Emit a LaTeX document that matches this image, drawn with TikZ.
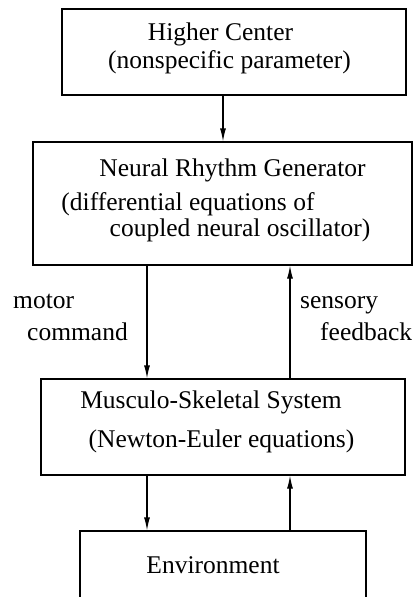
\documentclass[tikz,border=0pt]{standalone}
\usepackage{fontspec}
\setmainfont{Liberation Serif}
\usetikzlibrary{arrows.meta}
\begin{document}
\begin{tikzpicture}[x=1pt,y=-1pt,
  box/.style={draw,line width=1.2pt,inner sep=0pt},
  lbl/.style={inner sep=0pt,font=\fontsize{25.5}{30}\selectfont},
  arr/.style={line width=1.2pt,-{Latex[length=13pt,width=6pt]}}]
\useasboundingbox (0,0) rectangle (414,597);
\clip (0,0) rectangle (414,597);
% boxes
\node[box,minimum width=344pt,minimum height=86pt] (hc) at (234,52) {};
\node[box,minimum width=379pt,minimum height=123pt] (nrg) at (222.5,203.5) {};
\node[box,minimum width=364pt,minimum height=96pt] (mss) at (223,427) {};
\node[box,minimum width=286pt,minimum height=100pt] (env) at (223,581) {};
% texts
\node[lbl,anchor=base] (t1) at (220.5,40) {Higher Center};
\node[lbl,anchor=base] (t2) at (229.5,68) {(nonspecific parameter)};
\node[lbl,anchor=base] (t3) at (232.5,176) {Neural Rhythm Generator};
\node[lbl,anchor=base] (t4) at (188,210) {(differential equations of};
\node[lbl,anchor=base] (t5) at (240,236) {coupled neural oscillator)};
\node[lbl,anchor=base west] (m1) at (13,308) {motor};
\node[lbl,anchor=base west] (m2) at (27,340) {command};
\node[lbl,anchor=base west] (s1) at (300,308) {sensory};
\node[lbl,anchor=base west] (s2) at (320,340) {feedback};
\node[lbl,anchor=base] (t6) at (211,408) {Musculo-Skeletal System};
\node[lbl,anchor=base] (t7) at (221.5,447) {(Newton-Euler equations)};
\node[lbl,anchor=base] (t8) at (213,573) {Environment};
% connector x positions
\coordinate (xa) at (223,0);
\coordinate (xl) at (147,0);
\coordinate (xr) at (290,0);
% connectors
\draw[arr] (hc.south -| xa) -- (nrg.north -| xa);
\draw[arr] (nrg.south -| xl) -- (mss.north -| xl);
\draw[arr] (mss.north -| xr) -- (nrg.south -| xr);
\draw[arr] (mss.south -| xl) -- (env.north -| xl);
\draw[arr] (env.north -| xr) -- (mss.south -| xr);
\end{tikzpicture}
\end{document}
